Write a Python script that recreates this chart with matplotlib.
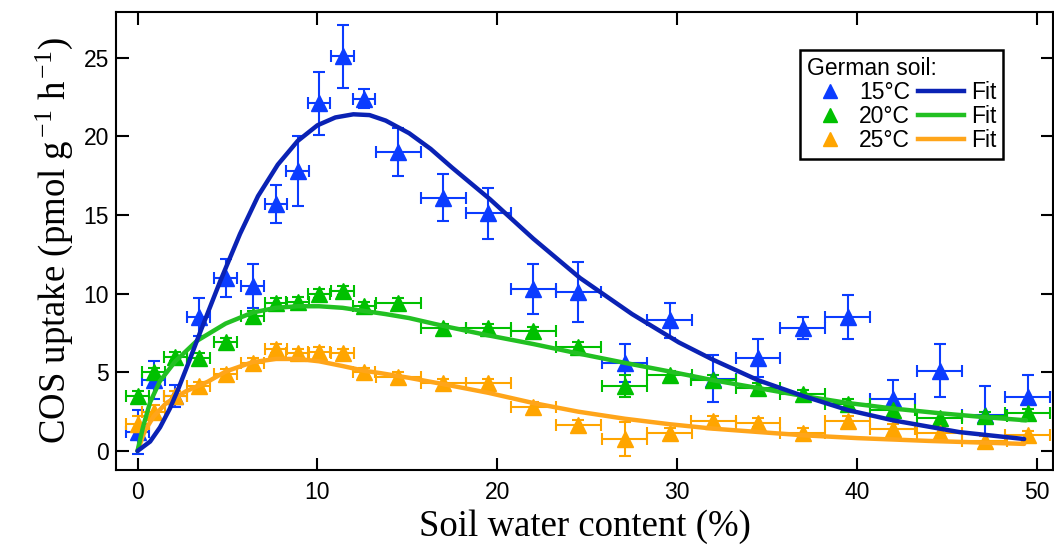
import matplotlib
matplotlib.use("Agg")
import matplotlib.pyplot as plt
from matplotlib.lines import Line2D

# ---- data ----
swc = [0.0, 0.9, 2.1, 3.4, 4.9, 6.4, 7.7, 8.9, 10.1, 11.4, 12.6, 14.5, 17.0,
       19.5, 22.0, 24.5, 27.1, 29.6, 32.0, 34.5, 37.0, 39.5, 42.0, 44.6, 47.1, 49.5]
swc_err = [0.63, 0.63, 0.63, 0.63, 0.63, 0.63, 0.63, 0.63, 0.63, 0.63, 0.63, 1.25, 1.25,
           1.25, 1.25, 1.25, 1.25, 1.25, 1.25, 1.25, 1.25, 1.25, 1.25, 1.25, 1.25, 1.25]

cos15 = [1.2, 4.5, 3.5, 8.5, 11.0, 10.5, 15.7, 17.8, 22.1, 25.1, 22.4, 19.0, 16.1,
         15.1, 10.3, 10.1, 5.6, 8.3, 4.6, 5.9, 7.8, 8.5, 3.3, 5.1, 2.3, 3.4]
cos15_err = [1.4, 1.2, 0.7, 1.2, 1.2, 1.4, 1.2, 2.2, 2.0, 2.0, 0.6, 1.5, 1.5,
             1.6, 1.6, 1.9, 1.2, 1.1, 1.5, 1.2, 0.7, 1.4, 1.2, 1.7, 1.8, 1.4]

cos20 = [3.5, 5.0, 6.0, 5.9, 6.9, 8.6, 9.4, 9.5, 10.0, 10.2, 9.2, 9.4, 7.8,
         7.8, 7.6, 6.6, 4.1, 4.8, 4.5, 4.0, 3.6, 3.0, 2.6, 2.1, 2.2, 2.4]
cos20_err = [0.3, 0.3, 0.3, 0.3, 0.3, 0.3, 0.3, 0.3, 0.3, 0.3, 0.3, 0.3, 0.3,
             0.3, 0.3, 0.3, 0.7, 0.3, 0.3, 0.3, 0.3, 0.3, 0.3, 0.3, 0.3, 0.3]

cos25 = [1.7, 2.5, 3.5, 4.1, 4.9, 5.6, 6.5, 6.2, 6.3, 6.2, 5.0, 4.7, 4.3,
         4.3, 2.8, 1.65, 0.76, 1.15, 1.9, 1.8, 1.15, 1.9, 1.4, 1.15, 0.64, 1.0]
cos25_err = [0.5, 0.4, 0.3, 0.3, 0.3, 0.3, 0.3, 0.3, 0.3, 0.3, 0.3, 0.3, 0.3,
             0.3, 0.3, 0.3, 1.1, 0.3, 0.3, 0.3, 0.3, 0.3, 0.3, 0.3, 0.3, 0.3]

fit15_x = [0.0, 0.7, 1.25, 1.8, 2.25, 2.8, 3.5, 4.6, 5.7, 6.7, 7.8, 8.9, 10.0, 11.0,
           12.0, 12.9, 13.8, 15.1, 16.3, 17.5, 19.6, 22.0, 24.6, 27.5, 30.1, 32.0,
           34.5, 37.0, 39.5, 42.0, 45.7, 49.3]
fit15_y = [0.0, 0.6, 1.5, 2.7, 3.9, 5.5, 7.6, 10.8, 13.8, 16.2, 18.2, 19.7, 20.7, 21.2,
           21.4, 21.35, 21.0, 20.2, 19.2, 18.0, 16.0, 13.5, 11.0, 8.7, 6.9, 5.8,
           4.5, 3.5, 2.6, 1.95, 1.2, 0.76]

fit20_x = [0.0, 0.3, 0.7, 1.25, 2.1, 3.3, 4.9, 6.4, 7.7, 8.9, 10.1, 11.4, 12.6, 13.8,
           15.1, 17.0, 19.5, 22.0, 24.5, 27.1, 29.6, 32.0, 34.5, 37.0, 39.5, 42.0,
           44.6, 47.1, 49.4]
fit20_y = [0.0, 1.5, 3.1, 4.45, 5.7, 7.0, 8.1, 8.8, 9.1, 9.2, 9.2, 9.1, 8.9, 8.7,
           8.45, 7.95, 7.35, 6.8, 6.2, 5.6, 5.05, 4.5, 4.0, 3.5, 3.05, 2.7,
           2.4, 2.15, 1.95]

fit25_x = [0.0, 0.4, 0.9, 1.6, 2.7, 3.9, 4.9, 6.4, 7.7, 8.9, 10.1, 11.4, 12.6, 13.5,
           15.1, 17.0, 19.5, 22.0, 24.5, 27.1, 29.6, 32.0, 34.6, 37.0, 40.0, 44.0, 49.3]
fit25_y = [0.0, 1.27, 2.2, 3.05, 3.8, 4.4, 5.05, 5.65, 5.85, 5.85, 5.7, 5.4, 5.1, 4.95,
           4.65, 4.25, 3.7, 3.05, 2.5, 2.05, 1.7, 1.42, 1.2, 1.0, 0.82, 0.64, 0.45]

labels = ["15°C", "20°C", "25°C"]
marker_colors = ["#0B3CFF", "#00C000", "#FFA500"]
fit_colors = ["#0A22B4", "#22C022", "#FFA51A"]

# ---- figure ----
plt.rcParams['mathtext.fontset'] = 'custom'
plt.rcParams['mathtext.rm'] = 'Liberation Serif'
plt.rcParams['mathtext.it'] = 'Liberation Serif:italic'

fig = plt.figure(figsize=(10.54, 5.47), dpi=100)
ax = fig.add_axes([0.110, 0.141, 0.889, 0.837])

series = [(cos15, cos15_err), (cos20, cos20_err), (cos25, cos25_err)]
fits = [(fit15_x, fit15_y), (fit20_x, fit20_y), (fit25_x, fit25_y)]

# draw in order: orange, green, blue so blue is on top
for i in [2, 1, 0]:
    y, ye = series[i]
    ax.errorbar(swc, y, yerr=ye, xerr=swc_err, fmt='^', color=marker_colors[i],
                ms=11, elinewidth=1.5, capsize=4.5, capthick=1.5, zorder=2 + i * 0.1)
for i in [2, 1, 0]:
    fx, fy = fits[i]
    ax.plot(fx, fy, color=fit_colors[i], lw=3.2, solid_capstyle='round',
            solid_joinstyle='round', zorder=3)

ax.set_xlim(-1.2, 50.9)
ax.set_ylim(-1.2, 27.9)
ax.set_xticks([0, 10, 20, 30, 40, 50])
ax.set_yticks([0, 5, 10, 15, 20, 25])
ax.tick_params(direction='in', length=9, width=1.5, top=True, right=True,
               labelsize=16.5, colors='black')
ax.tick_params(axis='x', pad=8)
ax.tick_params(axis='y', pad=5)
for lab in ax.get_xticklabels() + ax.get_yticklabels():
    lab.set_fontfamily('Liberation Sans')
for s in ax.spines.values():
    s.set_linewidth(1.5)

ax.set_xlabel("Soil water content (%)", fontsize=26.5, family='Liberation Serif', labelpad=4)
ax.set_ylabel(r"COS uptake (pmol g$^{\,\mathregular{-1}}$ h$^{\,\mathregular{-1}}$)",
              fontsize=26.5, family='Liberation Serif', labelpad=6)

# legend
handles = [Line2D([], [], ls='none', marker='^', ms=10, color=c) for c in marker_colors]
handles += [Line2D([], [], lw=3.2, color=c) for c in fit_colors]
leg_labels = labels + ["Fit", "Fit", "Fit"]
leg = ax.legend(handles, leg_labels, ncol=2, title="German soil:", loc='upper right',
                bbox_to_anchor=(0.947, 0.917), fancybox=False, framealpha=1,
                edgecolor='black', prop={'family': 'Liberation Sans', 'size': 16.5},
                title_fontproperties={'family': 'Liberation Sans', 'size': 16.5},
                alignment='left', handlelength=2.0, handletextpad=0.3,
                columnspacing=0.35, labelspacing=0.04, borderpad=0.3, borderaxespad=0)
leg.get_frame().set_linewidth(1.8)

fig.savefig("out.png", dpi=100)
